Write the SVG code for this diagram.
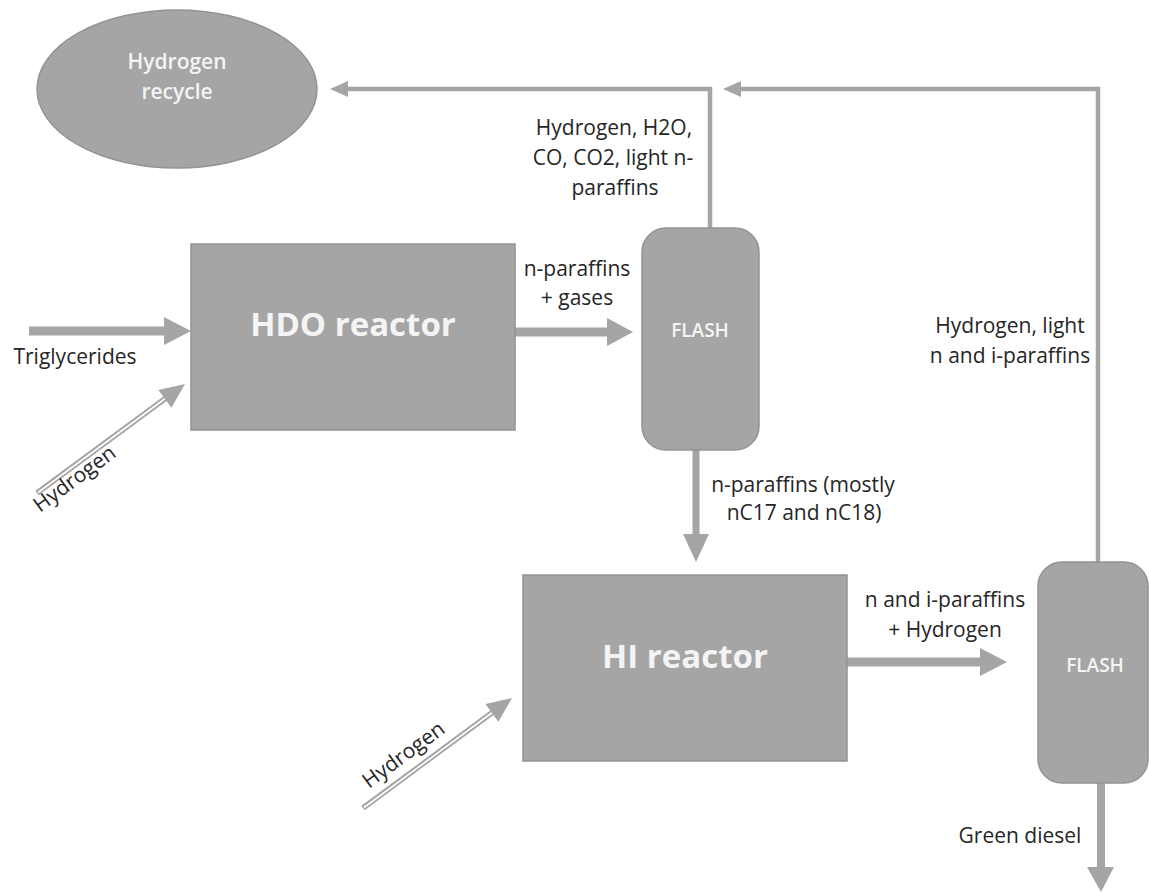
<svg xmlns="http://www.w3.org/2000/svg" width="1149" height="892" viewBox="0 0 1149 892">
<style>
.node{fill:#a5a5a5;stroke:#939393;stroke-width:1.5}
.ntxt{font-family:"Open Sans","Noto Sans",sans-serif;fill:#f4f4f4;text-anchor:middle}
.big{font-size:33px;font-weight:bold}
.mid{font-size:21px;font-weight:600}
.sm{font-size:19px;font-weight:600}
.lbl{font-family:"Open Sans","Noto Sans",sans-serif;font-size:21px;fill:#262626}
.c{text-anchor:middle}
.thin{fill:none;stroke:#a5a5a5;stroke-width:4.5}
.thick{fill:none;stroke:#a5a5a5}
.head{fill:#a5a5a5}
.dbl{stroke:#a5a5a5;stroke-width:5.5;fill:none}
.dblin{stroke:#ffffff;stroke-width:1.6;fill:none}
</style>
<rect width="1149" height="892" fill="#ffffff"/>
<g id="connectors">
  <polyline class="thin" points="710,228 710,89 346,89"/>
  <polygon class="head" points="330,89 348,81 348,97"/>
  <polyline class="thin" points="1098,562 1098,89 739,89"/>
  <polygon class="head" points="723,89 741,81 741,97"/>
  <line class="thick" x1="29" y1="331" x2="166" y2="331" stroke-width="9"/>
  <polygon class="head" points="164,317 191,331 164,345"/>
  <line class="thick" x1="515" y1="332" x2="609" y2="332" stroke-width="9"/>
  <polygon class="head" points="607,318 633,332 607,346"/>
  <line class="thick" x1="696" y1="450" x2="696" y2="536" stroke-width="7"/>
  <polygon class="head" points="683,534 709,534 696,562"/>
  <line class="thick" x1="847" y1="662" x2="982" y2="662" stroke-width="9"/>
  <polygon class="head" points="980,648 1007,662 980,676"/>
  <line class="thick" x1="1101" y1="783" x2="1101" y2="869" stroke-width="8"/>
  <polygon class="head" points="1087,867 1114,867 1101,892"/>
  <line class="dbl" x1="37" y1="493" x2="166" y2="398"/>
  <line class="dblin" x1="38" y1="492.5" x2="166" y2="398"/>
  <polygon class="head" points="185,384 171.4,407.7 158.4,389.9"/>
  <line class="dbl" x1="363" y1="808" x2="493" y2="712"/>
  <line class="dblin" x1="364" y1="807.5" x2="493" y2="712"/>
  <polygon class="head" points="512,698 498.4,721.7 485.4,704"/>
</g>
<g id="hydrogen-recycle">
  <ellipse class="node" cx="177" cy="89" rx="140" ry="79"/>
  <text class="ntxt mid" x="177" y="69">Hydrogen</text>
  <text class="ntxt mid" x="177" y="99">recycle</text>
</g>
<g id="hdo-reactor">
  <rect class="node" x="191" y="244" width="324" height="186"/>
  <text class="ntxt big" x="353" y="336">HDO reactor</text>
</g>
<g id="flash1">
  <rect class="node" x="642" y="228" width="117" height="222" rx="24"/>
  <text class="ntxt sm" x="700" y="337">FLASH</text>
</g>
<g id="hi-reactor">
  <rect class="node" x="523" y="575" width="324" height="186"/>
  <text class="ntxt big" x="685" y="668">HI reactor</text>
</g>
<g id="flash2">
  <rect class="node" x="1038" y="562" width="110" height="221" rx="24"/>
  <text class="ntxt sm" x="1095" y="672">FLASH</text>
</g>
<g id="labels">
  <text class="lbl c" x="614" y="135">Hydrogen, H2O,</text>
  <text class="lbl c" x="613" y="165">CO, CO2, light n-</text>
  <text class="lbl c" x="615" y="195">paraffins</text>
  <text class="lbl c" x="577" y="276">n-paraffins</text>
  <text class="lbl c" x="577" y="305">+ gases</text>
  <text class="lbl c" x="75" y="364">Triglycerides</text>
  <text class="lbl c" x="1010" y="333">Hydrogen, light</text>
  <text class="lbl c" x="1010" y="363">n and i-paraffins</text>
  <text class="lbl c" x="803" y="492">n-paraffins (mostly</text>
  <text class="lbl c" x="804" y="520">nC17 and nC18)</text>
  <text class="lbl c" x="945" y="607">n and i-paraffins</text>
  <text class="lbl c" x="945" y="637">+ Hydrogen</text>
  <text class="lbl c" x="1020" y="843">Green diesel</text>
  <text class="lbl" transform="translate(40,513) rotate(-36.4)">Hydrogen</text>
  <text class="lbl" transform="translate(369,789) rotate(-36.4)">Hydrogen</text>
</g>
</svg>
